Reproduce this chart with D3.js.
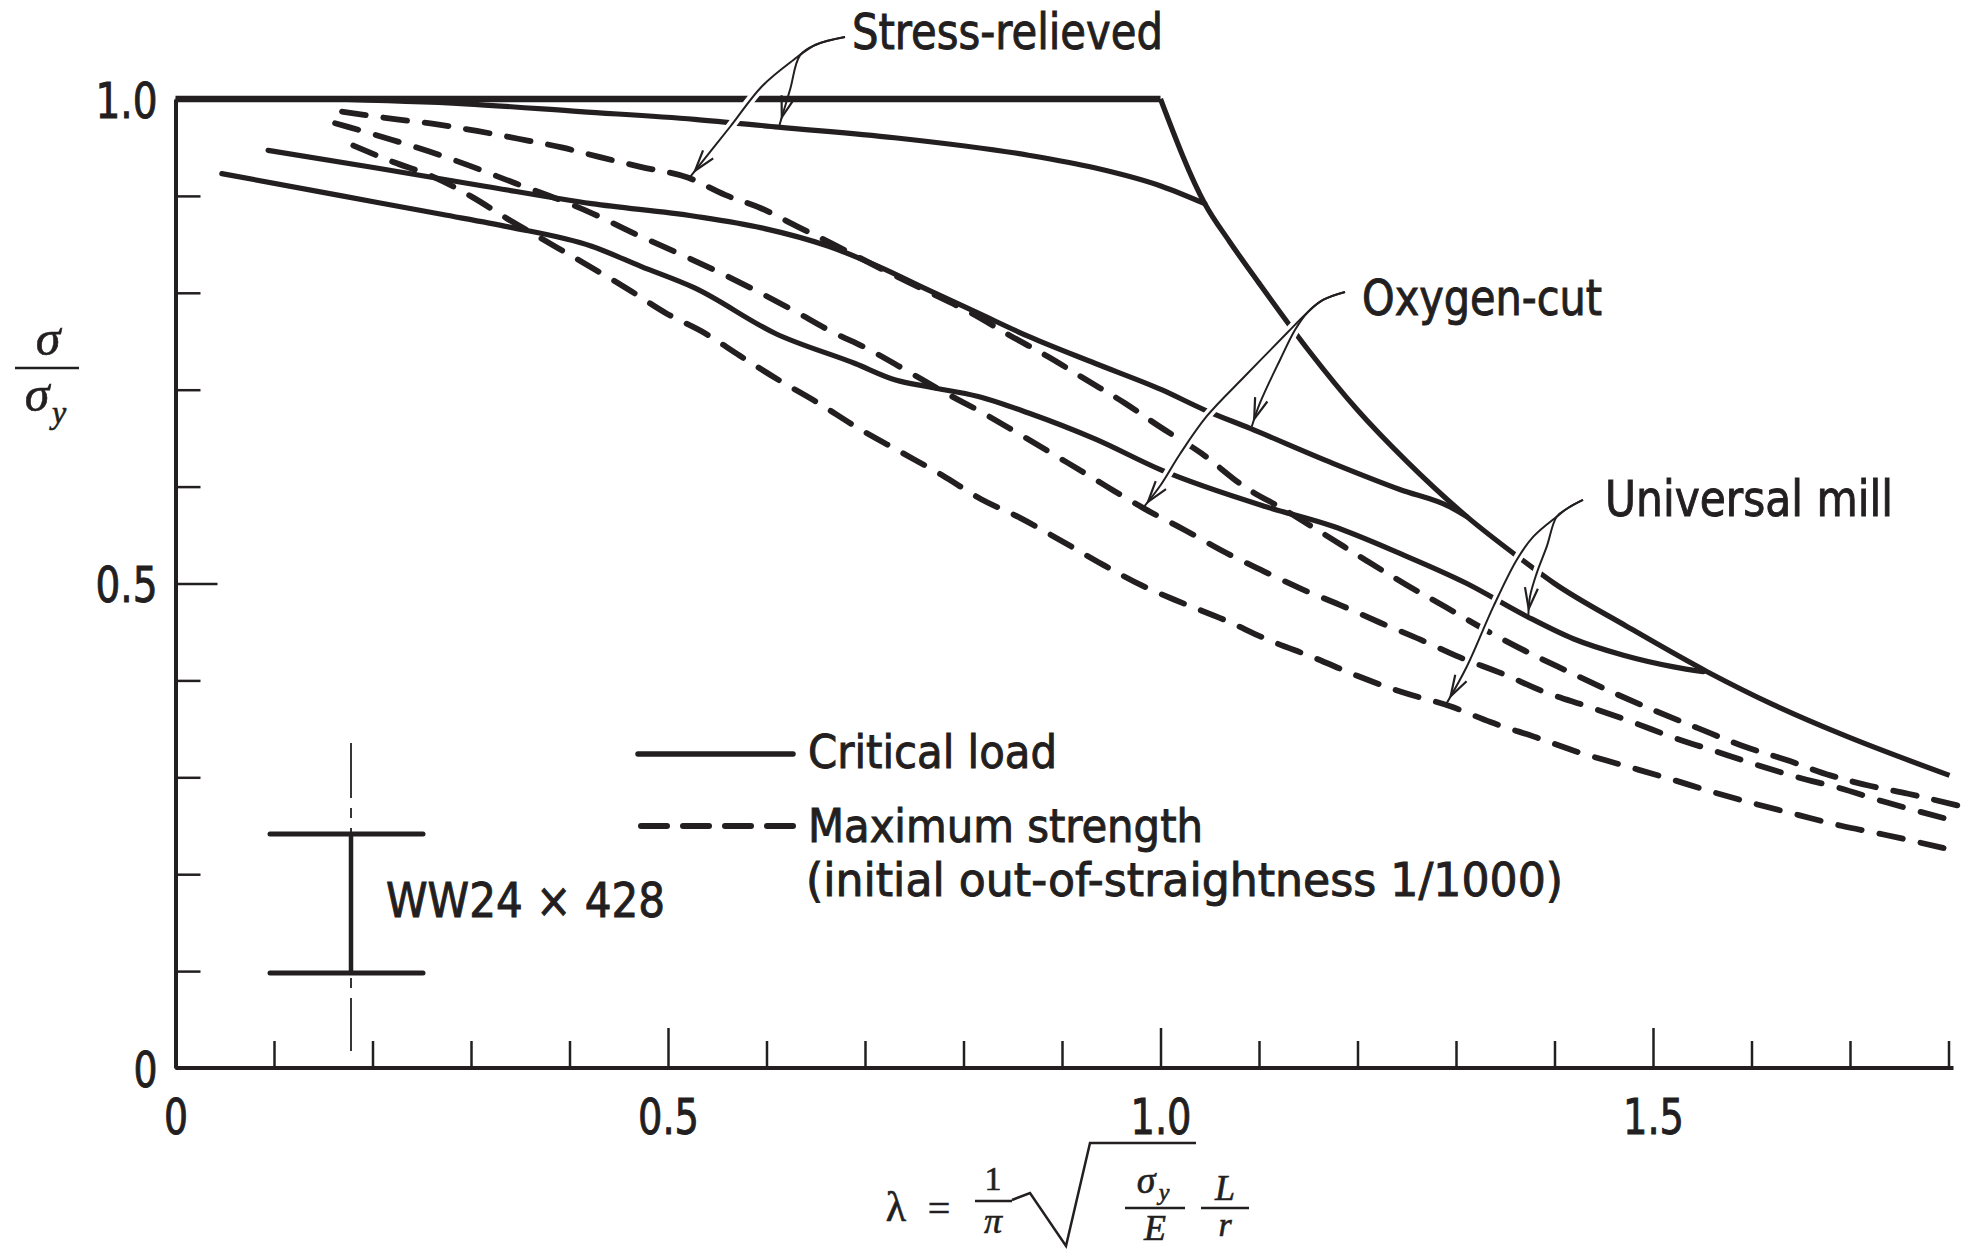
<!DOCTYPE html>
<html>
<head>
<meta charset="utf-8">
<script src="https://cdn.jsdelivr.net/npm/d3@7"></script>
<style>
  body { margin: 0; background: #fff; }
  svg { display: block; }
</style>
</head>
<body>
<svg id="chart" width="1966" height="1252"></svg>
<script>
// values, as [lambda, sigma/sigma_y]
var yieldPlateau = [[0, 1.0], [1.0, 1.0]];
var eulerCurve = [[1.0, 1.0], [1.045, 0.892], [1.070, 0.853], [1.100, 0.810], [1.150, 0.741], [1.200, 0.679],
  [1.250, 0.626], [1.311, 0.569], [1.365, 0.526], [1.400, 0.500], [1.473, 0.456], [1.555, 0.409],
  [1.622, 0.375], [1.690, 0.345], [1.801, 0.302]];

var stressCritical = [[0.15, 1.0], [0.294, 0.995], [0.411, 0.987], [0.527, 0.979], [0.612, 0.971], [0.730, 0.960],
  [0.866, 0.942], [0.933, 0.929], [1.001, 0.910], [1.045, 0.892]];
var oxygenCritical = [[0.094, 0.947], [0.2025, 0.929], [0.314, 0.910], [0.4225, 0.892], [0.527, 0.879], [0.595, 0.867],
  [0.663, 0.848], [0.714, 0.827], [0.764, 0.803], [0.815, 0.779], [0.866, 0.755], [0.934, 0.727], [1.001, 0.700],
  [1.045, 0.679], [1.091, 0.660], [1.175, 0.624], [1.243, 0.597], [1.294, 0.579], [1.311, 0.569]];
var millCritical = [[0.047, 0.923], [0.169, 0.900], [0.270, 0.881], [0.338, 0.868], [0.4225, 0.848], [0.473, 0.827],
  [0.527, 0.805], [0.609, 0.758], [0.690, 0.727], [0.731, 0.710], [0.764, 0.703], [0.815, 0.693], [0.866, 0.676],
  [0.934, 0.649], [1.001, 0.617], [1.108, 0.579], [1.175, 0.559], [1.243, 0.531], [1.311, 0.500], [1.372, 0.466],
  [1.419, 0.443], [1.470, 0.426], [1.521, 0.414], [1.551, 0.409]];

var stressMax = [[0.169, 0.987], [0.2246, 0.979], [0.264, 0.974], [0.306, 0.967], [0.348, 0.959], [0.392, 0.950],
  [0.431, 0.940], [0.472, 0.930], [0.520, 0.919], [0.558, 0.901], [0.595, 0.887], [0.632, 0.868], [0.670, 0.849],
  [0.712, 0.827], [0.760, 0.803], [0.808, 0.779], [0.847, 0.756], [0.886, 0.734], [0.925, 0.710], [0.964, 0.686],
  [0.999, 0.662], [1.042, 0.634], [1.085, 0.600], [1.126, 0.576], [1.166, 0.551], [1.210, 0.523], [1.249, 0.499],
  [1.289, 0.476], [1.330, 0.452], [1.371, 0.430], [1.412, 0.410], [1.456, 0.389], [1.499, 0.370], [1.545, 0.351],
  [1.592, 0.332], [1.635, 0.318], [1.680, 0.302], [1.721, 0.291], [1.759, 0.283], [1.809, 0.271]];
var oxygenMax = [[0.162, 0.975], [0.176, 0.971], [0.216, 0.959], [0.257, 0.946], [0.299, 0.931], [0.345, 0.913],
  [0.390, 0.896], [0.423, 0.882], [0.466, 0.861], [0.510, 0.841], [0.548, 0.823], [0.584, 0.805], [0.627, 0.782],
  [0.666, 0.760], [0.703, 0.742], [0.740, 0.721], [0.781, 0.697], [0.818, 0.677], [0.857, 0.654], [0.905, 0.625],
  [0.944, 0.601], [0.984, 0.577], [1.025, 0.555], [1.066, 0.532], [1.102, 0.514], [1.144, 0.494], [1.182, 0.478],
  [1.222, 0.460], [1.264, 0.442], [1.301, 0.425], [1.347, 0.407], [1.390, 0.388], [1.434, 0.373], [1.479, 0.357],
  [1.521, 0.341], [1.563, 0.327], [1.605, 0.313], [1.647, 0.300], [1.689, 0.289], [1.734, 0.275], [1.795, 0.258]];
var millMax = [[0.1805, 0.952], [0.221, 0.935], [0.259, 0.921], [0.301, 0.899], [0.336, 0.877], [0.375, 0.854],
  [0.414, 0.831], [0.459, 0.804], [0.498, 0.779], [0.538, 0.758], [0.573, 0.735], [0.614, 0.709], [0.653, 0.686],
  [0.692, 0.661], [0.734, 0.637], [0.778, 0.612], [0.818, 0.587], [0.857, 0.568], [0.896, 0.546], [0.937, 0.522],
  [0.981, 0.498], [1.022, 0.480], [1.066, 0.462], [1.109, 0.442], [1.157, 0.423], [1.199, 0.405], [1.245, 0.388],
  [1.295, 0.373], [1.335, 0.357], [1.382, 0.341], [1.424, 0.326], [1.464, 0.314], [1.512, 0.300], [1.560, 0.285],
  [1.606, 0.272], [1.648, 0.261], [1.691, 0.250], [1.734, 0.241], [1.795, 0.227]];

var xTickValues = d3.range(0, 19).map(function(i) { return i / 10; });
var yTickValues = d3.range(0, 11).map(function(i) { return i / 10; });
var xLabelValues = [0, 0.5, 1.0, 1.5];
var xTickLabels = ["0", "0.5", "1.0", "1.5"];
var yLabelValues = [0, 0.5, 1.0];
var yTickLabels = ["0", "0.5", "1.0"];

// leader lines of the three callouts, each branch ends on a curve
var calloutNames = ["Stress-relieved", "Oxygen-cut", "Universal mill"];
var calloutAnchors = [[0.6868, 1.0516], [1.2046, 0.7771], [1.4513, 0.5697]];
var calloutBranches = [
  [
    [[0.6797, 1.064], [0.650, 1.056], [0.634, 1.045], [0.624, 1.010], [0.6132, 0.9732]],
    [[0.6797, 1.064], [0.650, 1.056], [0.627, 1.040], [0.595, 1.0127], [0.5629, 0.9711], [0.5223, 0.9195]]
  ],
  [
    [[1.1873, 0.8008], [1.1650, 0.7926], [1.1487, 0.7792], [1.1365, 0.7616], [1.1213, 0.7307], [1.1010, 0.6863], [1.0926, 0.6618]],
    [[1.1873, 0.8008], [1.1650, 0.7926], [1.1487, 0.7792], [1.1284, 0.7585], [1.0858, 0.7141], [1.0472, 0.6729], [1.0198, 0.6337], [0.9995, 0.6006], [0.9822, 0.5779]]
  ],
  [
    [[1.4289, 0.5862], [1.4137, 0.5779], [1.4022, 0.5689], [1.3921, 0.5380], [1.3819, 0.5105], [1.3751, 0.4864], [1.3734, 0.4657]],
    [[1.4289, 0.5862], [1.4137, 0.5779], [1.4022, 0.5689], [1.3785, 0.5483], [1.3616, 0.5243], [1.3379, 0.4761], [1.3109, 0.4141], [1.2905, 0.3764]]
  ]
];

var svg = d3.select("#chart");
var ink = "#231f20";
var sans = '"Liberation Sans Narrow","DejaVu Sans Condensed","Liberation Sans",Arial,sans-serif';
var serif = '"Liberation Serif","DejaVu Serif",serif';

svg.append("rect").attr("width", 1966).attr("height", 1252).attr("fill", "#fff");

var x = d3.scaleLinear().domain([0, 1.8]).range([175.5, 1948.5]);
var y = d3.scaleLinear().domain([0, 1]).range([1068, 99]);

function isHalf(d) { return Math.abs(d * 2 - Math.round(d * 2)) < 1e-6; }
function labelFor(values, labels) {
  return function(d) {
    for (var i = 0; i < values.length; i++) if (Math.abs(values[i] - d) < 1e-6) return labels[i];
    return "";
  };
}
function heavy(sel) {
  // the print face is heavier than the installed ones
  return sel.attr("fill", ink).attr("stroke", ink).attr("stroke-width", 0.9).style("paint-order", "stroke");
}

// axes, ticks point into the plot
var gx = svg.append("g")
    .attr("transform", "translate(0," + y(0) + ")")
    .call(d3.axisBottom(x).tickValues(xTickValues).tickSizeInner(-27).tickSizeOuter(0).tickPadding(30)
      .tickFormat(labelFor(xLabelValues, xTickLabels)));
gx.select(".domain").attr("stroke", ink).attr("stroke-width", 4).attr("d", "M" + x(0) + ",0H" + (x(1.8) + 5));
gx.selectAll(".tick line").attr("stroke", ink).attr("stroke-width", 2.5)
    .attr("y2", function(d) { return d > 0 && isHalf(d) ? -40 : -27; });
heavy(gx.selectAll(".tick text")).style("font-family", sans).style("font-size", "50px")
    .each(function(d) {
      var t = d3.select(this);
      if (t.text() !== "") t.attr("textLength", t.text().length > 1 ? 61 : 24).attr("lengthAdjust", "spacingAndGlyphs");
    });

var gy = svg.append("g")
    .attr("transform", "translate(" + x(0) + ",0)")
    .call(d3.axisLeft(y).tickValues(yTickValues).tickSizeInner(-25).tickSizeOuter(0).tickPadding(18)
      .tickFormat(labelFor(yLabelValues, yTickLabels)));
gy.select(".domain").attr("stroke", ink).attr("stroke-width", 4);
gy.selectAll(".tick line").attr("stroke", ink).attr("stroke-width", 2.5)
    .attr("x2", function(d) { return Math.abs(d - 0.5) < 1e-6 ? 42 : 25; });
heavy(gy.selectAll(".tick text")).style("font-family", sans).style("font-size", "50px").attr("dy", "0.36em")
    .each(function(d) {
      var t = d3.select(this);
      if (t.text() !== "") t.attr("textLength", t.text().length > 1 ? 62 : 24).attr("lengthAdjust", "spacingAndGlyphs");
    });

// curves
var line = d3.line()
    .x(function(d) { return x(d[0]); })
    .y(function(d) { return y(d[1]); })
    .curve(d3.curveMonotoneX);

var curves = svg.append("g").attr("fill", "none").attr("stroke", ink).attr("stroke-linejoin", "round");

curves.append("path").datum(yieldPlateau).attr("d", line).attr("stroke-width", 6.5);
curves.append("path").datum(eulerCurve).attr("d", line).attr("stroke-width", 5.2);

[stressCritical, oxygenCritical, millCritical].forEach(function(s) {
  curves.append("path").datum(s).attr("d", line).attr("stroke-width", 5.2).attr("stroke-linecap", "round");
});
[stressMax, oxygenMax, millMax].forEach(function(s) {
  var p = curves.append("path").datum(s).attr("d", line).attr("stroke-width", 5.8).attr("stroke-linecap", "round");
  // stretch the gaps a little so each dashed curve starts and ends on a dash
  var L = p.node().getTotalLength(), dash = 24;
  var n = Math.max(1, Math.round((L - dash) / 42));
  p.attr("stroke-dasharray", dash + "," + ((L - (n + 1) * dash) / n).toFixed(2));
});

// callouts; a white edge under each leader breaks the curves it crosses
var leader = d3.line()
    .x(function(d) { return x(d[0]); })
    .y(function(d) { return y(d[1]); })
    .curve(d3.curveCatmullRom.alpha(0.5));

var callouts = svg.append("g");
calloutBranches.forEach(function(branches) {
  branches.forEach(function(pts) {
    var halo = callouts.append("path").datum(pts).attr("d", leader)
        .attr("fill", "none").attr("stroke", "#fff").attr("stroke-width", 9);
    var Lh = halo.node().getTotalLength();
    halo.attr("stroke-dasharray", Math.max(Lh - 34, 0) + "," + 2000);
  });
});
calloutBranches.forEach(function(branches, k) {
  branches.forEach(function(pts) {
    var p = callouts.append("path").datum(pts).attr("d", leader)
        .attr("fill", "none").attr("stroke", ink).attr("stroke-width", 2);
    var node = p.node(), L = node.getTotalLength();
    var tip = node.getPointAtLength(L - 8), back = node.getPointAtLength(L - 24);
    var ang = Math.atan2(tip.y - back.y, tip.x - back.x);
    var arm = 22, spread = 0.3;
    var a1 = [tip.x - arm * Math.cos(ang - spread), tip.y - arm * Math.sin(ang - spread)];
    var a2 = [tip.x - arm * Math.cos(ang + spread), tip.y - arm * Math.sin(ang + spread)];
    callouts.append("path")
        .attr("d", "M" + a1 + "L" + tip.x + "," + tip.y + "L" + a2)
        .attr("fill", "none").attr("stroke", ink).attr("stroke-width", 2.2);
  });
  heavy(callouts.append("text"))
      .attr("x", x(calloutAnchors[k][0])).attr("y", y(calloutAnchors[k][1]))
      .style("font-family", sans).style("font-size", "49px")
      .attr("textLength", [311, 240, 288][k]).attr("lengthAdjust", "spacingAndGlyphs")
      .text(calloutNames[k]);
});

// legend
var legend = svg.append("g");
legend.append("line").attr("x1", 638).attr("x2", 793).attr("y1", 754).attr("y2", 754)
    .attr("stroke", ink).attr("stroke-width", 5.5).attr("stroke-linecap", "round");
legend.append("line").attr("x1", 641).attr("x2", 793).attr("y1", 826).attr("y2", 826)
    .attr("stroke", ink).attr("stroke-width", 6).attr("stroke-linecap", "round").attr("stroke-dasharray", "26,16");
[["Critical load", 808, 768, 249], ["Maximum strength", 808, 842, 395],
 ["(initial out-of-straightness 1/1000)", 806, 896, 757]].forEach(function(t) {
  heavy(legend.append("text")).attr("x", t[1]).attr("y", t[2])
      .style("font-family", sans).style("font-size", "46px")
      .attr("textLength", t[3]).attr("lengthAdjust", "spacingAndGlyphs").text(t[0]);
});

// section sketch
var beam = svg.append("g").attr("stroke", ink).attr("fill", "none");
beam.append("line").attr("x1", 351).attr("x2", 351).attr("y1", 743).attr("y2", 1051)
    .attr("stroke-width", 1.8).attr("stroke-dasharray", "55,10,10,10");
beam.append("line").attr("x1", 351).attr("x2", 351).attr("y1", 834).attr("y2", 973).attr("stroke-width", 4.5);
beam.append("line").attr("x1", 270).attr("x2", 423).attr("y1", 834).attr("y2", 834).attr("stroke-width", 5).attr("stroke-linecap", "round");
beam.append("line").attr("x1", 270).attr("x2", 423).attr("y1", 973).attr("y2", 973).attr("stroke-width", 5).attr("stroke-linecap", "round");
heavy(svg.append("text")).attr("x", 386).attr("y", 917)
    .style("font-family", sans).style("font-size", "48px")
    .attr("textLength", 279).attr("lengthAdjust", "spacingAndGlyphs").text("WW24 \u00d7 428");

// axis titles
var math = svg.append("g").attr("fill", ink).style("font-family", serif);
function mt(s, cx, by, size, italic) {
  return math.append("text").attr("x", cx).attr("y", by).attr("text-anchor", "middle")
      .attr("stroke", ink).attr("stroke-width", 0.6)
      .style("font-size", size + "px").style("font-style", italic ? "italic" : "normal").text(s);
}
function bar(x1, x2, yy) {
  math.append("line").attr("x1", x1).attr("x2", x2).attr("y1", yy).attr("y2", yy)
      .attr("stroke", ink).attr("stroke-width", 2.5);
}
mt("\u03c3", 48, 355, 50, true);
bar(15, 79, 368);
mt("\u03c3", 37, 411, 50, true);
mt("y", 59, 423, 32, true);

mt("\u03bb", 896, 1221, 42, false);
mt("=", 939, 1222, 40, false);
mt("1", 993, 1190, 34, false);
bar(975, 1012, 1201);
mt("\u03c0", 993, 1233, 36, true);
math.append("path").attr("d", "M1012,1200L1030,1193L1066,1246L1090,1143L1196,1143")
    .attr("fill", "none").attr("stroke", ink).attr("stroke-width", 2.5);
mt("\u03c3", 1146, 1193, 38, true);
mt("y", 1164, 1200, 24, true);
bar(1125, 1185, 1208);
mt("E", 1155, 1240, 36, true);
mt("L", 1225, 1200, 36, true);
bar(1201, 1249, 1208);
mt("r", 1225, 1236, 34, true);
</script>
</body>
</html>
